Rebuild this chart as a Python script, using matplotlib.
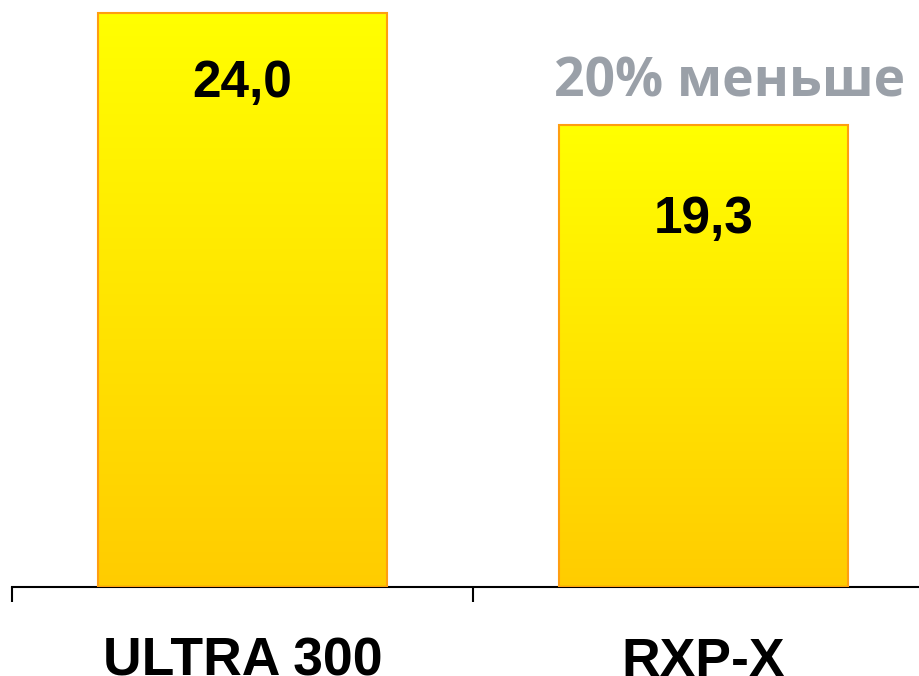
import numpy as np
import matplotlib
matplotlib.use('Agg')
import matplotlib.pyplot as plt
from matplotlib.colors import LinearSegmentedColormap

# Data
categories = ['ULTRA 300', 'RXP-X']
values = [24.0, 19.3]
value_labels = ['24,0', '19,3']
note_text = '20% меньше'

# label baselines below the bar top (data units)
label_drop = [3.5, 4.5]

fig = plt.figure(figsize=(9.2, 6.76), dpi=100)
ax = fig.add_axes([12 / 920, 89 / 676, 908 / 920, 587 / 676])

x = np.arange(len(categories))
bars = ax.bar(x, values, width=0.629, facecolor='none', edgecolor='#FF9E10',
              linewidth=1.5, zorder=3)

# vertical gradient: orange-yellow at bottom to pure yellow at top
cmap = LinearSegmentedColormap.from_list('bar_grad', ['#FFCC00', '#FFFF00'])
grad = np.linspace(0, 1, 256).reshape(-1, 1)
for b in bars:
    x0, y0 = b.get_x(), b.get_y()
    w, h = b.get_width(), b.get_height()
    im = ax.imshow(grad, cmap=cmap, origin='lower', aspect='auto',
                   extent=[x0, x0 + w, y0, y0 + h], zorder=2)
    im.set_clip_path(b)

ax.set_xlim(-0.5, -0.5 + 908 / 461)
ax.set_ylim(0, 587 / 23.92)

for xi, v, lab, d in zip(x, values, value_labels, label_drop):
    ax.text(xi, v - d, lab, ha='center', va='baseline', fontsize=37,
            fontweight='bold', family='Liberation Sans', zorder=4)

ax.text(1.056, 24.0 - 3.5, note_text, ha='center', va='baseline', fontsize=38.5,
        fontweight='bold', color='#9AA0A8', family=['Open Sans', 'DejaVu Sans'],
        zorder=4)

# axes styling
for s in ['top', 'right', 'left']:
    ax.spines[s].set_visible(False)
ax.spines['bottom'].set_linewidth(1.5)
ax.set_yticks([])
ax.set_xticks(x)
ax.set_xticklabels(categories, fontsize=38.5, fontweight='bold',
                   family='Liberation Sans')
ax.tick_params(axis='x', which='major', length=0, pad=36)
ax.set_xticks([-0.5, 0.5], minor=True)
ax.tick_params(axis='x', which='minor', length=11, width=1.5, direction='out')

fig.savefig('out.png', dpi=100)
plt.close()
